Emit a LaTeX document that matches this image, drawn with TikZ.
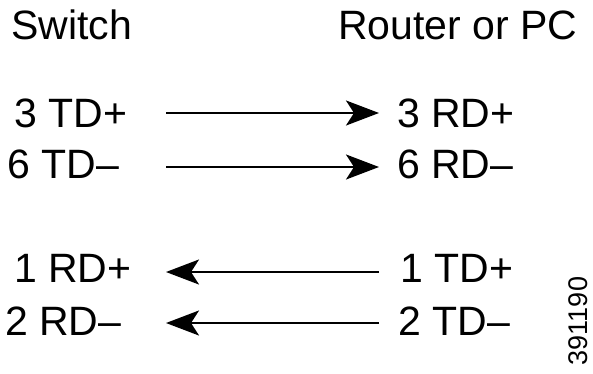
\documentclass[tikz,border=0pt]{standalone}
\usepackage{fontspec}
\setmainfont{Liberation Sans}
\usetikzlibrary{arrows.meta}
\tikzset{
  lbl/.style={inner sep=0pt, anchor=base west, font=\fontsize{41}{48}\selectfont},
  arr/.style={line width=2.2pt, -{Stealth[length=33pt, width=25pt, inset=8pt]}},
}
\begin{document}
\begin{tikzpicture}[x=1pt,y=-1pt]
\useasboundingbox (0,0) rectangle (593,373);
\node[lbl] (sw) at (11,39) {Switch};
\node[lbl] (rt) at (338,39) {Router or PC};
\node[lbl] (l1) at (14,127) {3 TD+};
\node[lbl] (r1) at (397,127) {3 RD+};
\node[lbl] (l2) at (7,178) {6 TD--};
\node[lbl] (r2) at (397,178) {6 RD--};
\node[lbl] (l3) at (14,282) {1 RD+};
\node[lbl] (r3) at (400,282) {1 TD+};
\node[lbl] (l4) at (5,335) {2 RD--};
\node[lbl] (r4) at (398,335) {2 TD--};
\coordinate (a1s) at (166,113); \coordinate (a1e) at (379,113);
\coordinate (a2s) at (166,167); \coordinate (a2e) at (379,167);
\coordinate (a3s) at (379,272); \coordinate (a3e) at (166,272);
\coordinate (a4s) at (379,323); \coordinate (a4e) at (166,323);
\draw[arr] (a1s) -- (a1e);
\draw[arr] (a2s) -- (a2e);
\draw[arr] (a3s) -- (a3e);
\draw[arr] (a4s) -- (a4e);
\node[inner sep=0pt, rotate=90, font=\fontsize{27}{30}\selectfont] (id) at (578,321) {391190};
\end{tikzpicture}
\end{document}
